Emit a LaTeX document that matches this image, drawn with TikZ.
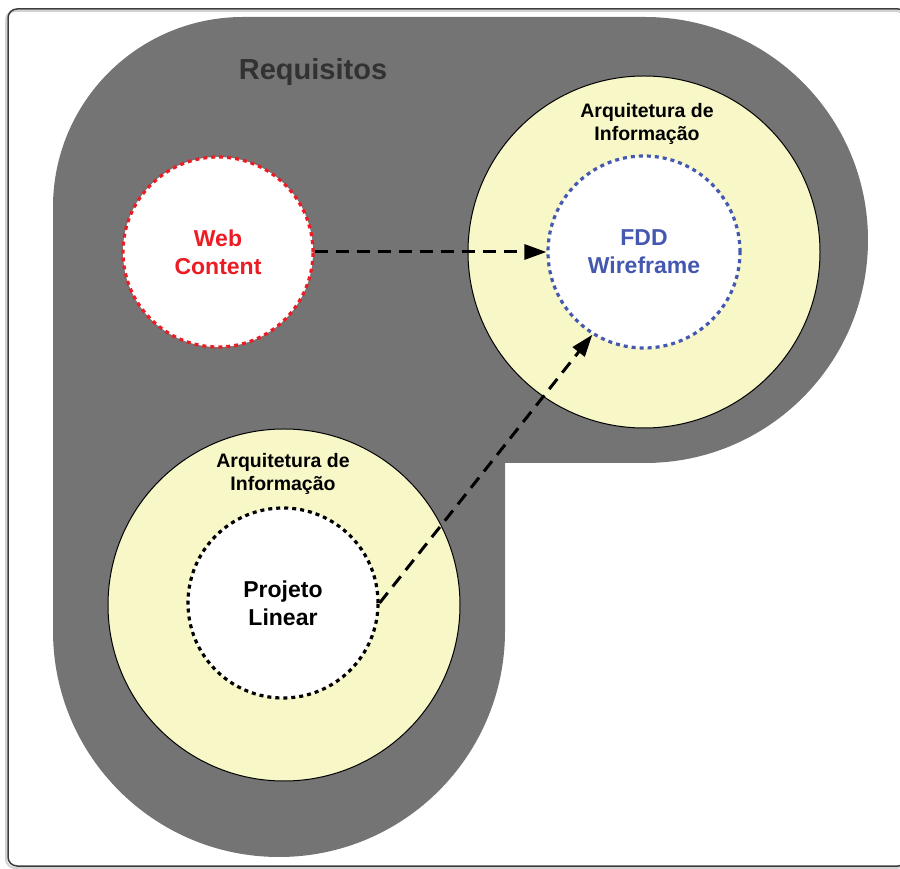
\documentclass[tikz,border=0pt]{standalone}
\usepackage{fontspec}
\setmainfont{Liberation Sans}
\usetikzlibrary{arrows.meta}

\definecolor{reqgrey}{RGB}{116,116,116}
\definecolor{reqtext}{RGB}{50,50,50}
\definecolor{arqyellow}{RGB}{247,247,200}
\definecolor{webred}{RGB}{237,28,36}
\definecolor{fddblue}{RGB}{68,88,176}
\definecolor{frameline}{RGB}{60,60,60}

\tikzset{
  arqcircle/.style={circle, draw=black, line width=1pt, fill=arqyellow, minimum size=352pt, inner sep=0pt},
  core/.style={circle, fill=white, line width=3.2pt, dash pattern=on 4pt off 4pt, minimum size=190pt, inner sep=0pt, align=center, font=\fontsize{23}{28}\selectfont\bfseries},
  arqlabel/.style={align=center, font=\fontsize{19.5}{23.5}\selectfont\bfseries},
  flow/.style={line width=3pt, dash pattern=on 13pt off 8pt, -{Triangle[length=22pt,width=15pt]}}
}

\begin{document}
\begin{tikzpicture}[x=1pt,y=1pt]
\useasboundingbox (0,0) rectangle (900,868);
\draw[gray!35, line width=2pt, rounded corners=9pt] (6,0) rectangle (905,857);
\draw[frameline, line width=1.5pt, rounded corners=9pt] (8,2) rectangle (907,859);
\fill[reqgrey] (53,237) -- (53,661) arc[start angle=180, end angle=90, radius=190]
  -- (645,851) arc[start angle=90, end angle=-90, radius=223]
  -- (505,405) -- (505,237) arc[start angle=0, end angle=-180, radius=226] -- cycle;
\node[font=\fontsize{29}{34}\selectfont\bfseries, text=reqtext] (req) at (313,796) {Requisitos};
\node[arqcircle] (arqtop) at (644,616) {};
\node[arqcircle] (arqbot) at (284,263) {};
\node[arqlabel] (arqtoplbl) at (647,744) {Arquitetura de\\Informação};
\node[arqlabel] (arqbotlbl) at (283,394) {Arquitetura de\\Informação};
\node[core, draw=webred, text=webred] (web) at (218,616) {Web\\Content};
\node[core, draw=fddblue, text=fddblue, minimum size=192pt] (fdd) at (644,616) {FDD\\Wireframe};
\node[core, draw=black] (projeto) at (283,265) {Projeto\\Linear};
\draw[flow] (web.east) -- (fdd.west);
\draw[flow] (projeto.east) -- (fdd.238);
\end{tikzpicture}
\end{document}
